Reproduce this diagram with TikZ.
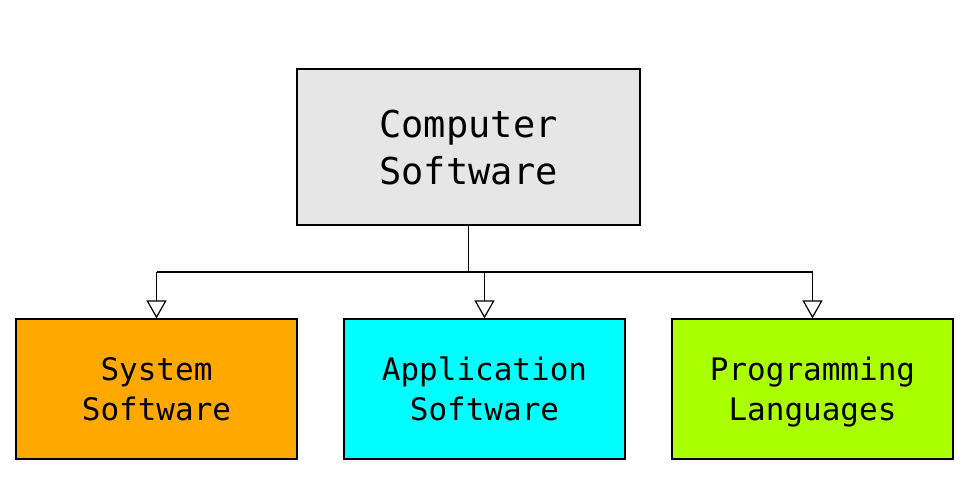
\documentclass[tikz,border=0pt]{standalone}
\usepackage{fontspec}
\setmonofont{DejaVu Sans Mono}
\usetikzlibrary{arrows.meta,positioning}
\definecolor{topgrey}{HTML}{E6E6E6}
\definecolor{sysorange}{HTML}{FFA800}
\definecolor{appcyan}{HTML}{00FFFF}
\definecolor{langgreen}{HTML}{AAFF00}
\tikzset{
  box/.style={draw,line width=1.2pt,inner sep=0pt,align=center,text depth=0pt,font=\ttfamily},
  child/.style={box,minimum width=281pt,minimum height=140pt,text height=62.6pt,font=\ttfamily\fontsize{31}{40}\selectfont},
  link/.style={line width=1.3pt},
  tip/.style={link,-{Triangle[open,width=20pt,length=18pt,line width=1.2pt]}}
}
\begin{document}
\begin{tikzpicture}[x=1pt,y=-1pt]
\useasboundingbox (0,0) rectangle (980,490);
\node[box,fill=topgrey,minimum width=343pt,minimum height=156pt,text height=74pt,font=\ttfamily\fontsize{37}{47}\selectfont] (soft) at (468.5,147) {Computer\\Software};
\node[child,fill=sysorange] (sys) at (156.5,389) {System\\Software};
\node[child,fill=appcyan] (app) at (484.5,389) {Application\\Software};
\node[child,fill=langgreen] (lang) at (812.5,389) {Programming\\Languages};
\coordinate (bus) at (468.5,272);
\draw[link] (soft.south) -- (bus);
\draw[link] (sys.north |- bus) -- (lang.north |- bus);
\foreach \N in {sys,app,lang}
  \draw[tip] (\N.north |- bus) -- (\N.north);
\end{tikzpicture}
\end{document}
